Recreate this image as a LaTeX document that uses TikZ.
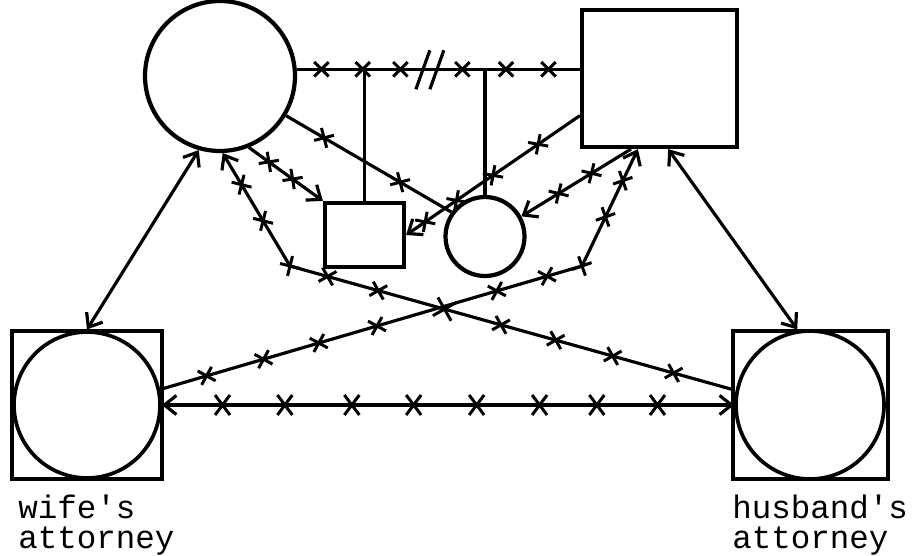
\documentclass[tikz,border=0pt]{standalone}
\usepackage{fontspec}
\newfontfamily\typewr{Liberation Mono}
\usetikzlibrary{shapes.misc,arrows.meta}

\begin{document}
\begin{tikzpicture}[x=0.02cm,y=-0.02cm,
  person/.style={draw,line width=2.4pt,inner sep=0pt},
  xm/.style={draw,cross out,line width=1.7pt,minimum size=0.23cm,inner sep=0pt,sloped},
  bigxm/.style={xm,minimum width=0.24cm,minimum height=0.34cm},
  link/.style={line width=1.8pt},
  lab/.style={font=\typewr\fontsize{18.5}{17}\selectfont,align=left,anchor=north west,inner sep=0pt},
  >={Straight Barb[length=0.24cm,width=0.38cm]}]
\useasboundingbox (0,0) rectangle (913,555);
% family
\node[person,circle,minimum size=3cm] (mother) at (220,76) {};
\node[person,rectangle,minimum width=3.1cm,minimum height=2.74cm] (father) at (659.5,78.5) {};
\node[person,rectangle,minimum width=1.58cm,minimum height=1.28cm] (son) at (364.5,235) {};
\node[person,circle,minimum size=1.58cm] (dau) at (485,236.5) {};
% attorneys
\node[person,rectangle,line width=1.8pt,minimum width=3cm,minimum height=2.96cm] (wbox) at (87,405) {};
\node[person,circle,line width=2.1pt,minimum size=2.92cm] (wcirc) at (87,405) {};
\node[person,rectangle,line width=1.8pt,minimum width=3.1cm,minimum height=2.96cm] (hbox) at (810.5,405) {};
\node[person,circle,line width=2.1pt,minimum size=2.96cm] (hcirc) at (810,405) {};
\node[lab] (wlab) at (18,495) {wife's\\attorney};
\node[lab] (hlab) at (732,495) {husband's\\attorney};
% marriage, broken
\draw[link] (mother.5) -- node[xm,pos=.087]{} node[xm,pos=.233]{} node[xm,pos=.366]{}
  coordinate[pos=.47] (brk)
  node[xm,pos=.585]{} node[xm,pos=.739]{} node[xm,pos=.889]{} (mother.5 -| father.west);
\draw[link] (brk) ++(-14,20) -- ++(14,-39);
\draw[link] (brk) ++(0,20) -- ++(14,-39);
\draw[link] (son.north) -- (son.north |- brk);
\draw[link] (dau.north) -- (dau.north |- brk);
% family ties
\draw[link] (mother.-31) -- node[xm,pos=.23]{} node[xm,pos=.69]{} (dau.144);
\draw[link,->] (mother.-68) -- node[xm,pos=.27]{} node[xm,pos=.59]{} (son.north west);
\draw[link,->] (father.205) -- node[xm,pos=.24]{} node[xm,pos=.5]{} node[xm,pos=.71]{} node[xm,pos=.89]{} (son.east);
\draw[link,->] (father.248) -- node[xm,pos=.36]{} node[xm,pos=.66]{} (dau.29);
% crossing lines
\coordinate (lbend) at (290,266);
\coordinate (rbend) at (582,266);
\draw[link,<-] (mother.-88) -- node[xm,pos=.28]{} node[xm,pos=.6]{} node[xm,pos=1]{} (lbend)
  -- node[xm,pos=.085]{} node[xm,pos=.2]{} node[xm,pos=.35,minimum size=0.32cm]{} node[xm,pos=.478]{}
  node[xm,pos=.602]{} node[xm,pos=.731]{} node[xm,pos=.869]{} ([yshift=-0.02cm]hbox.168);
\draw[link,->] (wcirc.12) -- node[xm,pos=.11]{} node[xm,pos=.245]{} node[xm,pos=.376]{} node[xm,pos=.514]{}
  node[xm,pos=.798]{} node[xm,pos=.917]{} (rbend)
  -- node[xm,pos=0]{} node[xm,pos=.42]{} node[xm,pos=.73]{} (father.253);
% attorneys
\draw[link,<->] (mother.254) -- (wbox.north);
\draw[link,<->] (father.277) -- (hbox.100);
\draw[link,<->] (wcirc.east) -- node[bigxm,pos=.106]{} node[bigxm,pos=.215]{} node[bigxm,pos=.332]{} node[bigxm,pos=.44]{}
  node[bigxm,pos=.55]{} node[bigxm,pos=.66]{} node[bigxm,pos=.76]{} node[bigxm,pos=.866]{} (hcirc.west);
\end{tikzpicture}
\end{document}
